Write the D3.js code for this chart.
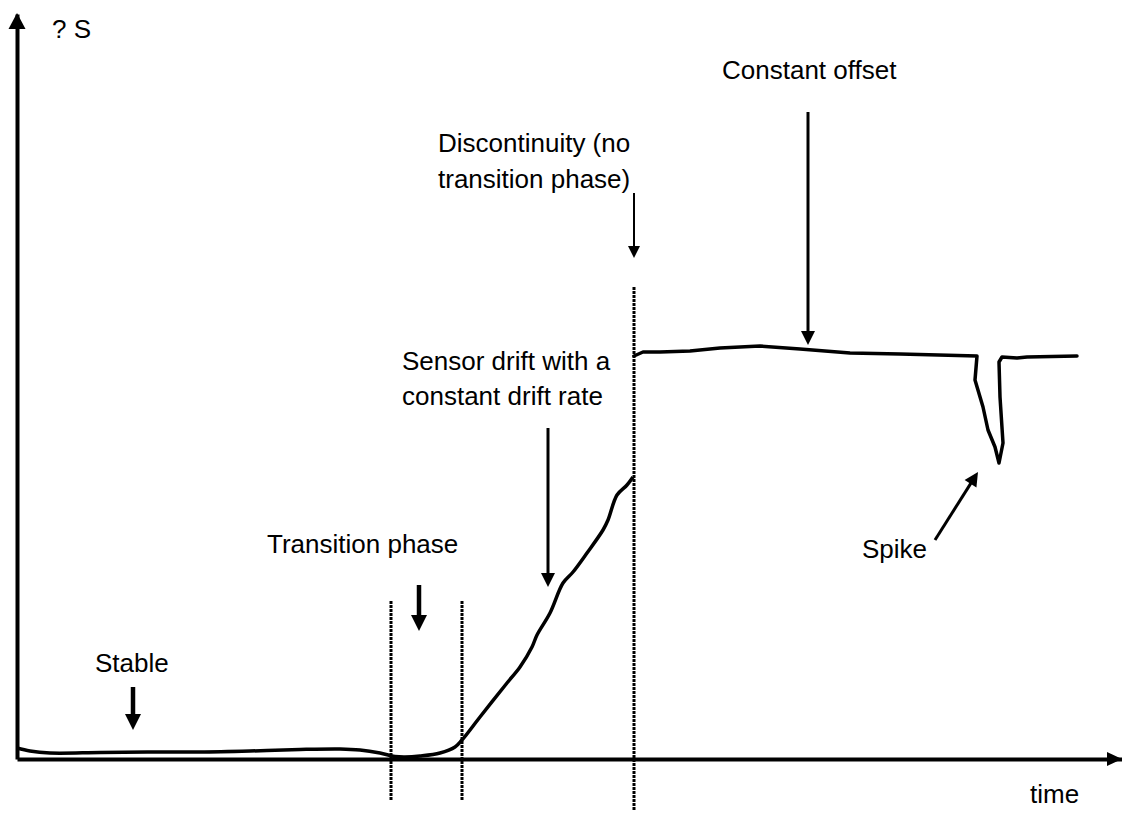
<!DOCTYPE html>
<html>
<head>
<meta charset="utf-8">
<script src="https://cdn.jsdelivr.net/npm/d3@7"></script>
<style>
  body { margin: 0; background: #fff; }
  text { font-family: "Liberation Sans", Arial, sans-serif; font-size: 26px; fill: #000; }
</style>
</head>
<body>
<div id="chart"></div>
<script>
// signal before the discontinuity: [time, deltaS]
var signalBefore = [
  [0, 11], [13, 8], [33, 6], [83, 6.5], [133, 7], [183, 7], [233, 8], [283, 9.5],
  [323, 10], [343, 9], [363, 6], [378, 2.5], [388, 2], [403, 3], [423, 6], [438, 12],
  [445, 19], [463, 42], [490, 76], [503, 92], [515, 112], [520, 124], [533, 146],
  [546, 176], [556, 187], [570, 206], [586, 229], [591, 239], [600, 264], [610, 274], [616, 282]
];
// signal after the jump, with the spike
var signalAfter = [
  [617, 403], [626, 407], [643, 407], [673, 408], [703, 411], [743, 413], [783, 410],
  [833, 406], [883, 405], [960, 403], [958, 379], [966, 352], [971, 329], [978, 312],
  [982, 296], [986, 316], [983, 362], [982, 397], [985, 402], [1000, 401], [1010, 402], [1060, 403]
];
// dotted phase boundaries: [time, bottom, top]
var dividers = [[374, -41, 158], [445, -41, 158], [617, -51, 472]];
// annotation arrows: [t1, v1, t2, v2, thickness]
var arrows = [
  [116, 72, 116, 29, 4.5],
  [402, 174, 402, 128, 4.5],
  [531, 331, 531, 172, 3],
  [617, 566, 617, 501, 2],
  [791, 647, 791, 414, 3],
  [918, 219, 961, 287, 3]
];
// labels: [text, time, deltaS]
var labels = [
  ["? S", 35, 721],
  ["Constant offset", 705, 680],
  ["Discontinuity (no", 421, 607],
  ["transition phase)", 421, 571],
  ["Sensor drift with a", 385, 389],
  ["constant drift rate", 385, 354],
  ["Transition phase", 250, 206],
  ["Stable", 78, 87],
  ["Spike", 845, 201],
  ["time", 1013, -44]
];

var width = 1122, height = 827;
var x = d3.scaleLinear().domain([0, 1105]).range([17, 1122]);
var y = d3.scaleLinear().domain([0, 745]).range([759, 14]);

var svg = d3.select("#chart").append("svg").attr("width", width).attr("height", height);

// axes without ticks
svg.append("g").attr("transform", "translate(0," + y(0) + ")")
  .call(d3.axisBottom(x).tickValues([]).tickSizeOuter(0))
  .select(".domain").attr("stroke", "#000").attr("stroke-width", 4);
svg.append("g").attr("transform", "translate(" + x(0) + ",0)")
  .call(d3.axisLeft(y).tickValues([]).tickSizeOuter(0))
  .select(".domain").attr("stroke", "#000").attr("stroke-width", 4);

var head = function(x1, y1, x2, y2, len, half){
  var a = Math.atan2(y2 - y1, x2 - x1), c = Math.cos(a), s = Math.sin(a);
  var bx = x2 - c * len, by = y2 - s * len;
  return "M" + x2 + "," + y2 + "L" + (bx - s * half) + "," + (by + c * half) +
    "L" + (bx + s * half) + "," + (by - c * half) + "Z";
};

// axis arrowheads
svg.append("path").attr("d", head(x(0), y(0), x(0), y(745) - 1, 16, 8.5));
svg.append("path").attr("d", head(x(0), y(0), x(1105), y(0), 15, 7));

// phase boundaries
svg.selectAll(".divider").data(dividers).enter().append("line")
  .attr("x1", function(d){ return x(d[0]); }).attr("x2", function(d){ return x(d[0]); })
  .attr("y1", function(d){ return y(d[1]); }).attr("y2", function(d){ return y(d[2]); })
  .attr("stroke", "#000").attr("stroke-width", 3).attr("stroke-dasharray", "3,1");

// signal
var line = d3.line().x(function(d){ return x(d[0]); }).y(function(d){ return y(d[1]); });
svg.append("path")
  .attr("d", line.curve(d3.curveCatmullRom)(signalBefore))
  .attr("fill", "none").attr("stroke", "#000").attr("stroke-width", 3.5).attr("stroke-linejoin", "round");
svg.append("path")
  .attr("d", line.curve(d3.curveLinear)(signalAfter))
  .attr("fill", "none").attr("stroke", "#000").attr("stroke-width", 3.5)
  .attr("stroke-linejoin", "round").attr("stroke-linecap", "round");

// annotation arrows
arrows.forEach(function(d){
  var x1 = x(d[0]), y1 = y(d[1]), x2 = x(d[2]), y2 = y(d[3]);
  var len = d[4] > 4 ? 16 : (d[4] > 2 ? 14 : 12), half = d[4] > 4 ? 8 : (d[4] > 2 ? 7 : 6);
  var a = Math.atan2(y2 - y1, x2 - x1);
  svg.append("line").attr("x1", x1).attr("y1", y1)
    .attr("x2", x2 - Math.cos(a) * (len - 2)).attr("y2", y2 - Math.sin(a) * (len - 2))
    .attr("stroke", "#000").attr("stroke-width", d[4]);
  svg.append("path").attr("d", head(x1, y1, x2, y2, len, half));
});

svg.selectAll(".label").data(labels).enter().append("text")
  .attr("x", function(d){ return x(d[1]); })
  .attr("y", function(d){ return y(d[2]); })
  .text(function(d){ return d[0]; });
</script>
</body>
</html>
